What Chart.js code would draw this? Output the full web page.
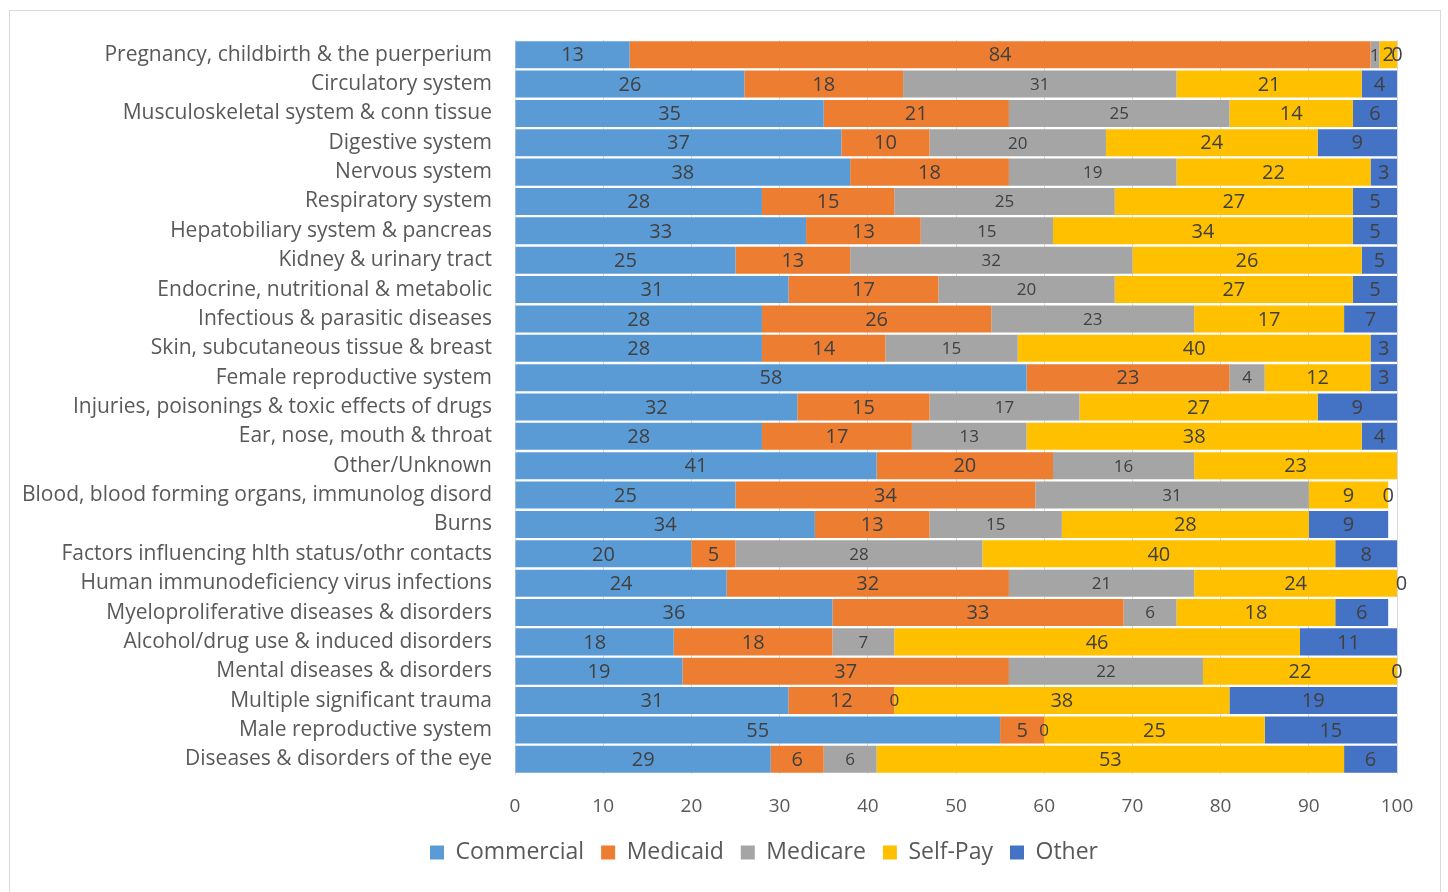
<!DOCTYPE html>
<html>
<head>
<meta charset="utf-8">
<script src="https://cdn.jsdelivr.net/npm/chart.js@4.4.1/dist/chart.umd.min.js"></script>
<style>
  html, body { margin: 0; padding: 0; background: #fff; }
  #frame { position: absolute; left: 9px; top: 10px; width: 1430px; height: 900px; border: 1px solid #d9d9d9; }
  #wrap { position: absolute; left: 0; top: 0; width: 1448px; height: 892px; }
</style>
</head>
<body>
<div id="frame"></div>
<div id="wrap"><canvas id="grafico"></canvas></div>
<script>
const categorias = [
    'Pregnancy, childbirth & the puerperium',
    'Circulatory system',
    'Musculoskeletal system & conn tissue',
    'Digestive system',
    'Nervous system',
    'Respiratory system',
    'Hepatobiliary system & pancreas',
    'Kidney & urinary tract',
    'Endocrine, nutritional & metabolic',
    'Infectious & parasitic diseases',
    'Skin, subcutaneous tissue & breast',
    'Female reproductive system',
    'Injuries, poisonings & toxic effects of drugs',
    'Ear, nose, mouth & throat',
    'Other/Unknown',
    'Blood, blood forming organs, immunolog disord',
    'Burns',
    'Factors influencing hlth status/othr contacts',
    'Human immunodeficiency virus infections',
    'Myeloproliferative diseases & disorders',
    'Alcohol/drug use & induced disorders',
    'Mental diseases & disorders',
    'Multiple significant trauma',
    'Male reproductive system',
    'Diseases & disorders of the eye'
];

const commercial = [13, 26, 35, 37, 38, 28, 33, 25, 31, 28, 28, 58, 32, 28, 41, 25, 34, 20, 24, 36, 18, 19, 31, 55, 29];
const medicaid   = [84, 18, 21, 10, 18, 15, 13, 13, 17, 26, 14, 23, 15, 17, 20, 34, 13, 5, 32, 33, 18, 37, 12, 5, 6];
const medicare   = [1, 31, 25, 20, 19, 25, 15, 32, 20, 23, 15, 4, 17, 13, 16, 31, 15, 28, 21, 6, 7, 22, 0, 0, 6];
const selfPay    = [2, 21, 14, 24, 22, 27, 34, 26, 27, 17, 40, 12, 27, 38, 23, 9, 28, 40, 24, 18, 46, 22, 38, 25, 53];
const other      = [0, 4, 6, 9, 3, 5, 5, 5, 5, 7, 3, 3, 9, 4, null, 0, 9, 8, 0, 6, 11, 0, 19, 15, 6];

const ticksX = [0, 10, 20, 30, 40, 50, 60, 70, 80, 90, 100];

const fonte = '"Open Sans", Lato, sans-serif';

// escreve o valor no meio de cada segmento visivel
const rotulos = {
    id: 'rotulos',
    afterDatasetsDraw(chart) {
        const ctx = chart.ctx;
        const area = chart.chartArea;
        ctx.save();
        ctx.textAlign = 'center';
        ctx.textBaseline = 'middle';
        ctx.fillStyle = '#404040';
        chart.data.datasets.forEach((ds, i) => {
            const meta = chart.getDatasetMeta(i);
            const tam = ds.label === 'Medicare' ? 17 : 20;
            ctx.font = tam + 'px ' + fonte;
            meta.data.forEach((bar, j) => {
                const v = ds.data[j];
                if (v === null || v === undefined) return;
                const a = Math.max(Math.min(bar.x, bar.base), area.left);
                const b = Math.min(Math.max(bar.x, bar.base), area.right);
                ctx.fillText(String(v), (a + b) / 2, bar.y + 1);
            });
        });
        ctx.restore();
    }
};

// legenda centrada em x = 764 em vez do meio do canvas
const legendaDeslocada = {
    id: 'legendaDeslocada',
    afterLayout(chart) {
        const lg = chart.legend;
        const desvio = 764 - (lg.left + lg.right) / 2;
        lg.left += desvio;
        lg.right += desvio;
    }
};

const ctxGrafico = document.getElementById('grafico').getContext('2d');
const grafico = new Chart(ctxGrafico, {
    type: 'bar',
    data: {
        labels: categorias,
        datasets: [
            { label: 'Commercial', data: commercial, backgroundColor: '#5B9BD5' },
            { label: 'Medicaid', data: medicaid, backgroundColor: '#ED7D31' },
            { label: 'Medicare', data: medicare, backgroundColor: '#A5A5A5' },
            { label: 'Self-Pay', data: selfPay, backgroundColor: '#FFC000' },
            { label: 'Other', data: other, backgroundColor: '#4472C4' }
        ]
    },
    options: {
        indexAxis: 'y',
        responsive: true,
        maintainAspectRatio: false,
        animation: false,
        datasets: {
            bar: { categoryPercentage: 1, barPercentage: 0.92, borderWidth: 0 }
        },
        layout: {
            padding: { left: 20, right: 51, top: 40, bottom: 18 }
        },
        scales: {
            x: {
                stacked: true,
                min: 0,
                max: 100,
                afterBuildTicks(scale) {
                    scale.ticks = ticksX.map(v => ({ value: v }));
                },
                afterFit(scale) { scale.height = 50; },
                grid: { color: '#d9d9d9', drawTicks: false },
                border: { display: false },
                ticks: {
                    padding: 21,
                    color: '#595959',
                    font: { family: fonte, size: 19 }
                }
            },
            y: {
                stacked: true,
                afterFit(scale) { scale.width = 495; },
                grid: { display: false },
                border: { color: '#d9d9d9' },
                ticks: {
                    padding: 15,
                    color: '#595959',
                    font: { family: fonte, size: 21 }
                }
            }
        },
        plugins: {
            legend: {
                position: 'bottom',
                labels: {
                    boxWidth: 14,
                    boxHeight: 14,
                    padding: 17,
                    color: '#595959',
                    font: { family: fonte, size: 23 }
                }
            },
            tooltip: { enabled: false }
        }
    },
    plugins: [rotulos, legendaDeslocada]
});
</script>
</body>
</html>
